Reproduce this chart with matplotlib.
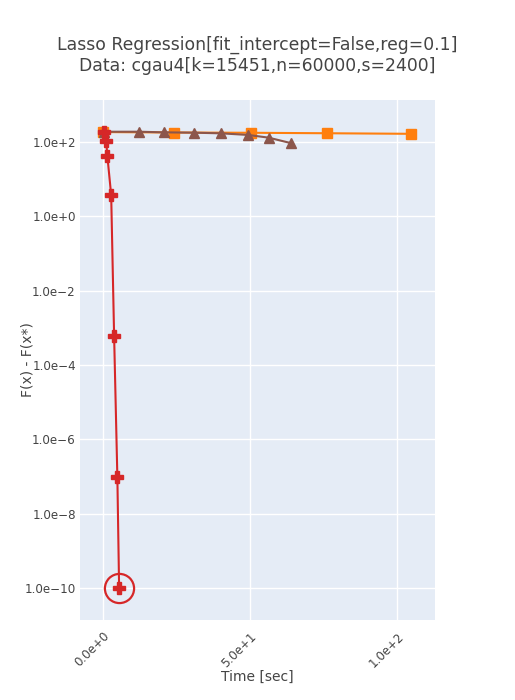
import numpy as np
import matplotlib
matplotlib.use("Agg")
import matplotlib.pyplot as plt
from matplotlib.ticker import FixedLocator, FixedFormatter

plt.rcParams['font.family'] = ['DejaVu Sans']

# --- data ---
orange_t = [0.0, 24.1, 50.3, 76.2, 104.8]
orange_f = [185, 180, 177, 172, 166]

brown_t = [0.1, 12.2, 20.5, 31.0, 40.1, 49.2, 56.2, 63.9]
brown_f = [189, 189, 182, 178, 171, 155, 131, 93]

red_t = [0.3, 1.0, 1.4, 2.7, 3.7, 4.8, 5.4]
red_f = [185, 107, 42, 3.75, 6e-4, 1e-7, 1e-10]

y_ticks = [1e2, 1e0, 1e-2, 1e-4, 1e-6, 1e-8, 1e-10]
y_labels = ["1.0e+2", "1.0e+0", "1.0e\u22122", "1.0e\u22124",
            "1.0e\u22126", "1.0e\u22128", "1.0e\u221210"]
x_ticks = [0, 50, 100]
x_labels = ["0.0e+0", "5.0e+1", "1.0e+2"]

ORANGE = '#ff7f0e'
BROWN = '#8c564b'
RED = '#d62728'
TXT = '#444444'

fig = plt.figure(figsize=(5.15, 7.0), dpi=100)
ax = fig.add_axes([80 / 515, 1 - 620 / 700, 355 / 515, 520 / 700])
ax.set_facecolor('#e5ecf6')

ax.plot(orange_t, orange_f, color=ORANGE, lw=1.5, marker='s', ms=7,
        mec=ORANGE, zorder=3)
ax.plot(brown_t, brown_f, color=BROWN, lw=1.5, marker='^', ms=7,
        mec=BROWN, zorder=4)
ax.plot(red_t, red_f, color=RED, lw=1.5, marker='P', ms=8.5,
        mec=RED, zorder=5)
# highlight the final point
ax.plot(red_t[-1:], red_f[-1:], marker='o', ms=21, mfc='none', mec=RED,
        mew=1.6, ls='none', zorder=6)

ax.set_yscale('log')
ax.set_xlim(-7.9, 112.8)
ax.set_ylim(10 ** -10.86, 10 ** 3.13)

ax.yaxis.set_major_locator(FixedLocator(y_ticks))
ax.yaxis.set_major_formatter(FixedFormatter(y_labels))
ax.yaxis.set_minor_locator(FixedLocator([]))
ax.set_xticks(x_ticks)
ax.set_xticklabels(x_labels, rotation=45, ha='right', rotation_mode='anchor')

ax.grid(True, color='white', lw=1.0)
ax.set_axisbelow(True)
for s in ax.spines.values():
    s.set_visible(False)
ax.tick_params(axis='both', length=0, colors=TXT, labelsize=8.6)
ax.tick_params(axis='x', pad=7)
ax.tick_params(axis='y', pad=3)

ax.set_xlabel("Time [sec]", color=TXT, fontsize=10)
ax.set_ylabel("F(x) - F(x*)", color=TXT, fontsize=10)
ax.xaxis.set_label_coords(0.5, (620 - 677) / 520)
ax.yaxis.set_label_coords((28 - 80) / 355, 0.5)
ax.xaxis.label.set_va('center')
ax.yaxis.label.set_va('center')

fig.text(257 / 515, 1 - 55.5 / 700,
         "Lasso Regression[fit_intercept=False,reg=0.1]\nData: cgau4[k=15451,n=60000,s=2400]",
         ha='center', va='center', color=TXT, fontsize=12.4, linespacing=1.25)

fig.savefig("out.png", dpi=100)
